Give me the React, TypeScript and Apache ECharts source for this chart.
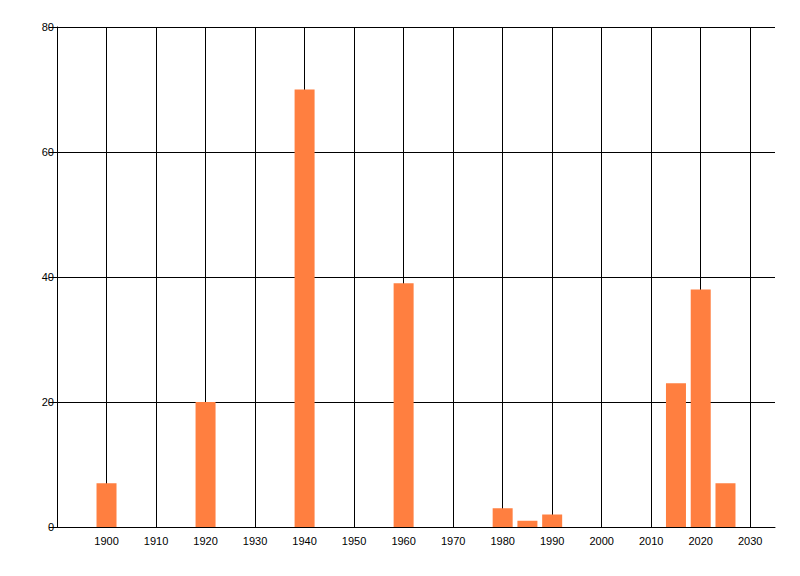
import { useEffect, useRef } from 'react';
import * as echarts from 'echarts';

// bar data
const years = [1900, 1920, 1940, 1960, 1980, 1985, 1990, 2015, 2020, 2025];
const counts = [7, 20, 70, 39, 3, 1, 2, 23, 38, 7];

const xMin = 1890;
const xMax = 2035;
const xStep = 10;
const yMax = 80;
const yStep = 20;

const labelFont = {
  color: '#000000',
  fontFamily: '"Liberation Sans", Arial, sans-serif',
  fontSize: 11
};

function App() {
  const chartRef = useRef<HTMLDivElement>(null);

  useEffect(() => {
    if (!chartRef.current) return;
    const chart = echarts.init(chartRef.current, null, { renderer: 'svg' });

    const option = {
      animation: false,
      backgroundColor: '#ffffff',
      grid: { left: 57, right: 25, top: 27, bottom: 49 },
      xAxis: {
        type: 'value',
        min: xMin,
        max: xMax,
        interval: xStep,
        axisLine: { show: true, onZero: false, lineStyle: { color: '#000', width: 1 } },
        axisTick: { show: false },
        axisLabel: {
          ...labelFont,
          margin: 8,
          showMinLabel: false,
          showMaxLabel: false,
          formatter: (v: number) => (v > xMin && v % xStep === 0 ? String(v) : '')
        },
        splitLine: {
          show: true,
          showMinLine: true,
          showMaxLine: false,
          lineStyle: { color: '#000', width: 1 }
        }
      },
      yAxis: {
        type: 'value',
        min: 0,
        max: yMax,
        interval: yStep,
        axisLine: { show: true, lineStyle: { color: '#000', width: 1 } },
        axisTick: { show: true, length: 8, lineStyle: { color: '#000', width: 1 } },
        axisLabel: { ...labelFont, margin: 3 },
        splitLine: { show: true, lineStyle: { color: '#000', width: 1 } }
      },
      series: [
        {
          type: 'bar',
          barWidth: 20,
          itemStyle: { color: '#ff7f40' },
          data: years.map((y, i) => [y, counts[i]])
        }
      ]
    };

    chart.setOption(option);
    return () => {
      chart.dispose();
    };
  }, []);

  return (
    <div
      ref={chartRef}
      style={{ position: 'fixed', left: 0, top: 0, width: '800px', height: '576px' }}
    />
  );
}

export default App;
